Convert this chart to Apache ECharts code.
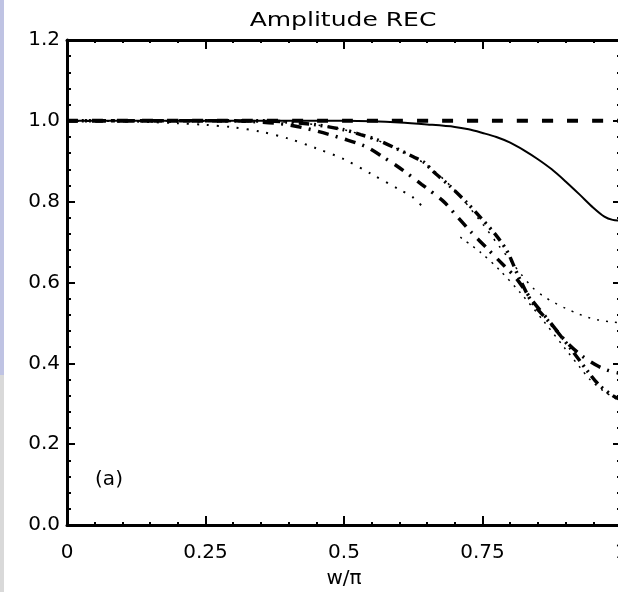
<!DOCTYPE html>
<html>
<head>
<meta charset="utf-8">
<script src="https://cdn.jsdelivr.net/npm/echarts@6/dist/echarts.min.js"></script>
<style>
html,body{margin:0;padding:0;background:#fff;}
#c{width:618px;height:592px;}
</style>
</head>
<body>
<div id="c"></div>
<script>
// ---- data ----
var titleText = 'Amplitude REC';
var xName = 'w/π';
var panelLabel = '(a)';
var xTicks = [0, 0.25, 0.5, 0.75, 1];
var yTicks = [0.0, 0.2, 0.4, 0.6, 0.8, 1.0, 1.2];

var solidPts = [[0,1],[0.1,1],[0.2,1],[0.3,1],[0.4,1],[0.5,1],[0.55,0.999],[0.6,0.996],[0.65,0.991],[0.7,0.985],[0.725,0.979],[0.75,0.97],[0.775,0.96],[0.8,0.946],[0.825,0.927],[0.85,0.905],[0.875,0.88],[0.9,0.85],[0.925,0.818],[0.95,0.785],[0.97,0.763],[0.985,0.755],[1.0,0.753]];
var dashedPts = [[0,1],[0.25,1],[0.5,1],[0.75,1],[1,1]];
var dottedShortPts = [[0,1],[0.1,0.999],[0.15,0.997],[0.2,0.994],[0.25,0.99],[0.3,0.984],[0.35,0.973],[0.4,0.956],[0.45,0.932],[0.5,0.905],[0.55,0.868],[0.6,0.83],[0.625,0.81],[0.64,0.79]];
var dashDotPts = [[0,1],[0.3,1],[0.35,0.997],[0.4,0.99],[0.45,0.975],[0.5,0.955],[0.54,0.936],[0.57,0.911],[0.6,0.884],[0.64,0.843],[0.68,0.8],[0.7,0.77],[0.73,0.724],[0.76,0.682],[0.79,0.64],[0.81,0.612],[0.84,0.555],[0.87,0.505],[0.9,0.455],[0.93,0.418],[0.96,0.392],[0.98,0.381],[1.0,0.375]];
var dashDotDotPts = [[0,1],[0.35,1],[0.4,0.997],[0.45,0.99],[0.5,0.978],[0.53,0.966],[0.56,0.953],[0.6,0.928],[0.625,0.911],[0.645,0.897],[0.66,0.876],[0.69,0.84],[0.72,0.8],[0.745,0.763],[0.775,0.716],[0.795,0.676],[0.815,0.615],[0.84,0.55],[0.875,0.495],[0.91,0.435],[0.94,0.38],[0.96,0.347],[0.985,0.32],[1.0,0.31]];
var thinDotAPts = [[0,1],[0.4,0.997],[0.45,0.99],[0.5,0.978],[0.55,0.957],[0.6,0.928],[0.65,0.89],[0.7,0.828],[0.75,0.745],[0.78,0.69],[0.8,0.655],[0.82,0.62],[0.84,0.588],[0.86,0.566],[0.88,0.55],[0.9,0.536],[0.92,0.524],[0.94,0.514],[0.96,0.507],[0.98,0.503],[1.0,0.5]];
var thinDotBPts = [[0.71,0.712],[0.746,0.675],[0.78,0.632],[0.82,0.572],[0.86,0.505],[0.9,0.435],[0.926,0.39],[0.944,0.36],[0.97,0.33],[1.0,0.305]];

// ---- chart ----
var FONT = 'DejaVu Sans';
var chart = echarts.init(document.getElementById('c'), null, {renderer:'canvas'});

function xAxisCfg(pos, showLabel) {
  return {
    type:'value', position:pos, min:0, max:1, interval:0.25,
    axisLine:{show:true, onZero:false, lineStyle:{color:'#000', width:3}},
    axisTick:{show:true, inside:true, length:9, lineStyle:{color:'#000', width:2}},
    minorTick:{show:true, splitNumber:5, length:3, lineStyle:{color:'#000', width:2}},
    splitLine:{show:false},
    axisLabel:{show:showLabel, margin:18, color:'#000', fontFamily:FONT, fontSize:20,
      hideOverlap:false,
      formatter:function(v){ return String(v); }},
    name: showLabel ? xName : '', nameLocation:'middle', nameGap:44,
    nameTextStyle:{color:'#000', fontFamily:FONT, fontSize:20}
  };
}
function yAxisCfg(pos, showLabel) {
  return {
    type:'value', position:pos, min:0, max:1.2, interval:0.2,
    axisLine:{show:true, onZero:false, lineStyle:{color:'#000', width:3}},
    axisTick:{show:true, inside:true, length:8, lineStyle:{color:'#000', width:2}},
    minorTick:{show:true, splitNumber:5, length:4, lineStyle:{color:'#000', width:2}},
    splitLine:{show:false},
    axisLabel:{show:showLabel, margin:7, color:'#000', fontFamily:FONT, fontSize:20,
      padding:[5,0,0,0],
      formatter:function(v){ return v.toFixed(1); }}
  };
}

function line(name, data, width, type) {
  return {
    name:name, type:'line', data:data, symbol:'none', smooth:0.3,
    xAxisIndex:0, yAxisIndex:0,
    lineStyle:{color:'#000', width:width, type:type, cap:'butt'},
    animation:false, silent:true
  };
}

chart.setOption({
  animation:false,
  backgroundColor:'#fff',
  grid:{left:67, right:-3, top:40, bottom:67, containLabel:false, outerBoundsMode:'none'},
  xAxis:[xAxisCfg('bottom', true), xAxisCfg('top', false)],
  yAxis:[yAxisCfg('left', true), yAxisCfg('right', false)],
  graphic:[
    {type:'rect', shape:{x:0, y:0, width:4, height:375}, style:{fill:'#bfc3e3'}, silent:true},
    {type:'rect', shape:{x:0, y:375, width:4, height:217}, style:{fill:'#d9d9d9'}, silent:true},
    {type:'text', x:343, y:21, scaleX:1.25, silent:true,
      style:{text:titleText, fill:'#000', font:'20px "DejaVu Sans"', textAlign:'center', textVerticalAlign:'middle'}},
    {type:'text', x:109, y:480, silent:true,
      style:{text:panelLabel, fill:'#000', font:'20px "DejaVu Sans"', textAlign:'center', textVerticalAlign:'middle'}}
  ],
  series:[
    line('solid', solidPts, 2, 'solid'),
    line('dashed', dashedPts, 4, [11,14]),
    line('dotted', dottedShortPts, 2, [2,8]),
    line('dashdot', dashDotPts, 3.5, [11,7,2,8]),
    line('dashdotdot', dashDotDotPts, 3.5, [10,5,2,5,2,5]),
    line('thinA', thinDotAPts, 1.5, [2,7]),
    line('thinB', thinDotBPts, 1.5, [2,6])
  ]
});
</script>
</body>
</html>
